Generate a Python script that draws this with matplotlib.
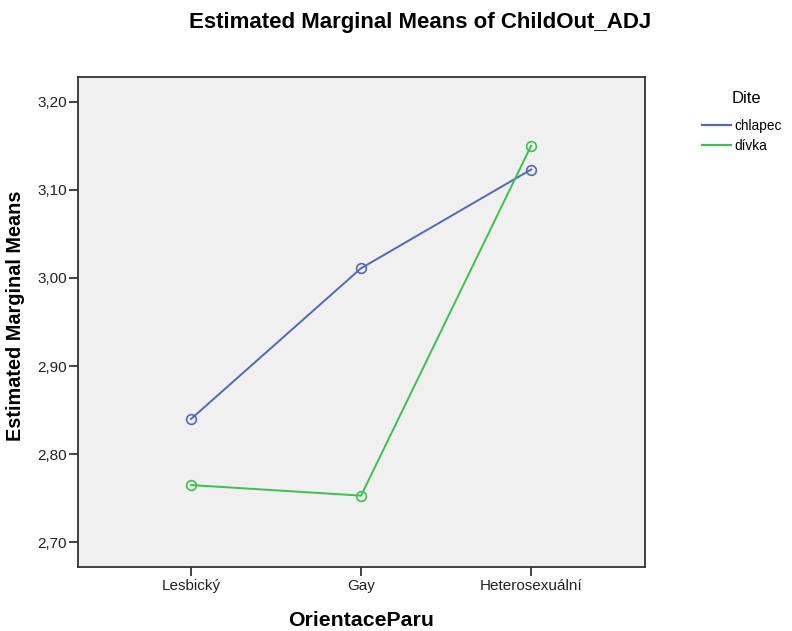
import matplotlib
matplotlib.use('Agg')
import matplotlib.pyplot as plt
from matplotlib.lines import Line2D

plt.rcParams['font.family'] = ['Liberation Sans', 'DejaVu Sans']

# data
categories = ['Lesbický', 'Gay', 'Heterosexuální']
chlapec = [2.840, 3.011, 3.123]
divka = [2.765, 2.753, 3.150]
y_ticks = [2.70, 2.80, 2.90, 3.00, 3.10, 3.20]

blue = '#5468b8'
green = '#3cc050'

fig = plt.figure(figsize=(7.92, 6.31), dpi=100)
ax = fig.add_axes([0.0985, 0.1014, 0.7159, 0.7766])
ax.set_facecolor('#f0f0f0')

x = range(len(categories))
ax.plot(x, chlapec, color=blue, lw=1.4, marker='o', ms=7, mfc='none', mew=1.2)
ax.plot(x, divka, color=green, lw=1.4, marker='o', ms=7, mfc='none', mew=1.2)

ax.set_xlim(-0.665, 2.67)
ax.set_ylim(2.672, 3.228)
ax.set_xticks(list(x))
ax.set_xticklabels(categories)
ax.set_yticks(y_ticks)
ax.set_yticklabels([f'{v:.2f}'.replace('.', ',') for v in y_ticks])
ax.tick_params(direction='out', length=6.5, width=1.2, labelsize=11, color='#222222',
               labelcolor='#222222')
ax.tick_params(axis='y', pad=1.5)
ax.tick_params(axis='x', pad=2)
for s in ax.spines.values():
    s.set_linewidth(1.3)
    s.set_color('#333333')

# axis titles and main title
fig.text(0.019, 0.4995, 'Estimated Marginal Means', rotation=90, fontsize=14.3,
         fontweight='bold', ha='center', va='center')
fig.text(0.456, 0.017, 'OrientaceParu', fontsize=15.3, fontweight='bold',
         ha='center', va='center')
fig.text(0.531, 0.965, 'Estimated Marginal Means of ChildOut_ADJ', fontsize=16,
         fontweight='bold', ha='center', va='center')

handles = [Line2D([], [], color=blue, lw=1.6), Line2D([], [], color=green, lw=1.6)]
leg = fig.legend(handles, ['chlapec', 'dívka'], title='Dite', loc='upper left',
                 bbox_to_anchor=(0.878, 0.866), frameon=False, fontsize=9.8,
                 title_fontsize=12, handlelength=2.1, handletextpad=0.25,
                 labelspacing=0.45, borderpad=0)
leg.get_title().set_position((5, 0))
leg._legend_box.sep = 9

fig.savefig('out.png', dpi=100)
